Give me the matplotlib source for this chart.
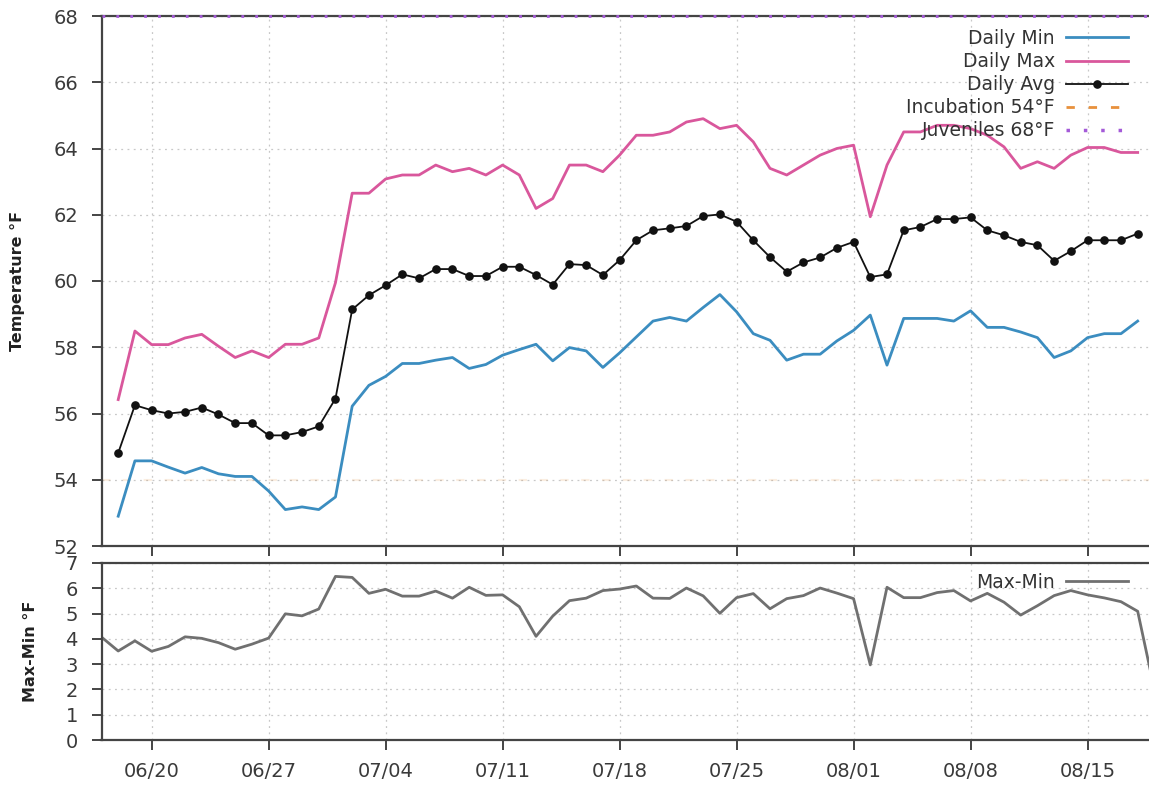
import numpy as np
import pandas as pd
import matplotlib
matplotlib.use("Agg")
import matplotlib.pyplot as plt
import matplotlib.dates as mdates
from matplotlib.lines import Line2D

plt.rcParams['font.family'] = ['DejaVu Sans']

# daily stats, 06/18 .. 08/18
days = pd.date_range("2021-06-18", "2021-08-18", freq="D")

daily_min = [52.90, 54.57, 54.57, 54.38, 54.20, 54.37, 54.18, 54.10, 54.10, 53.66, 53.10, 53.18, 53.10,
             53.48, 56.22, 56.85, 57.12, 57.51, 57.51, 57.61, 57.69, 57.36, 57.48, 57.76, 57.93, 58.09,
             57.59, 57.99, 57.89, 57.39, 57.83, 58.31, 58.79, 58.90, 58.79, 59.20, 59.59, 59.07, 58.41,
             58.21, 57.61, 57.79, 57.79, 58.19,
             58.51, 58.97, 57.46, 58.87, 58.87, 58.87, 58.79, 59.10, 58.60, 58.60, 58.46, 58.29, 57.69,
             57.89, 58.29, 58.41, 58.41, 58.79]

daily_max = [56.42, 58.49, 58.08, 58.08, 58.28, 58.39, 58.03, 57.69, 57.89, 57.69, 58.09, 58.09, 58.28,
             59.95, 62.65, 62.65, 63.08, 63.20, 63.20, 63.50, 63.30, 63.40, 63.20, 63.50, 63.20, 62.19,
             62.49, 63.50, 63.50, 63.30, 63.80, 64.40, 64.40, 64.50, 64.80, 64.90, 64.60, 64.70, 64.20,
             63.40, 63.20, 63.50, 63.80, 64.00,
             64.10, 61.94, 63.50, 64.50, 64.50, 64.70, 64.70, 64.60, 64.40, 64.05, 63.40, 63.60, 63.40,
             63.80, 64.03, 64.03, 63.88, 63.88]

daily_avg = [54.81, 56.25, 56.10, 56.00, 56.05, 56.18, 55.97, 55.71, 55.71, 55.34, 55.34, 55.44, 55.61,
             56.45, 59.14, 59.57, 59.87, 60.20, 60.08, 60.36, 60.36, 60.15, 60.15, 60.43, 60.43, 60.18,
             59.89, 60.51, 60.48, 60.18, 60.63, 61.23, 61.53, 61.59, 61.66, 61.96, 62.01, 61.79, 61.23,
             60.72, 60.28, 60.56, 60.71, 61.00,
             61.18, 60.12, 60.20, 61.53, 61.63, 61.87, 61.87, 61.92, 61.53, 61.38, 61.18, 61.08, 60.61,
             60.90, 61.23, 61.23, 61.23, 61.43]

# the range series runs one day longer at each end
spread_days = pd.date_range("2021-06-17", "2021-08-19", freq="D")
spread_first = 4.07
spread_last = 2.0
spread = [spread_first] + list(np.round(np.array(daily_max) - np.array(daily_min), 2)) + [spread_last]

incubation = 54
juveniles = 68

tick_days = pd.date_range("2021-06-20", "2021-08-15", freq="7D")
xlim = (pd.Timestamp("2021-06-17"), pd.Timestamp("2021-08-19"))

c_min = "#3b8dc0"
c_max = "#d9579c"
c_avg = "#111111"
c_inc = "#e8913c"
c_juv = "#a45ad8"
c_rng = "#707070"
spine_c = "#444444"
grid_kw = dict(color="#c8c8c8", linestyle=(0, (1.5, 3.5)), linewidth=0.9)

fig = plt.figure(figsize=(11.49, 7.85), dpi=100)
left, width = 101.5 / 1149, (1154.4 - 101.5) / 1149
ax = fig.add_axes([left, 1 - 546 / 785, width, (546 - 16) / 785])
ax2 = fig.add_axes([left, 1 - 740 / 785, width, (740 - 563) / 785])

# --- temperatures
ax.plot(days, daily_min, color=c_min, lw=2.0, label="Daily Min", zorder=3)
ax.plot(days, daily_max, color=c_max, lw=2.0, label="Daily Max", zorder=3)
ax.plot(days, daily_avg, color=c_avg, lw=1.3, marker="o", ms=5.2, label="Daily Avg", zorder=4)
ax.axhline(incubation, color=c_inc, lw=1.5, ls=(0, (4, 6)), alpha=0.15, zorder=2)
ax.axhline(juveniles, color=c_juv, lw=2.0, ls=(0, (1, 4)), clip_on=False, zorder=6)

handles = [
    Line2D([], [], color=c_min, lw=2.0),
    Line2D([], [], color=c_max, lw=2.0),
    Line2D([], [], color=c_avg, lw=1.3, marker="o", ms=5.2),
    Line2D([], [], color=c_inc, lw=2.0, ls=(0, (3, 5))),
    Line2D([], [], color=c_juv, lw=2.5, ls=(0, (1, 4))),
]
labels = ["Daily Min", "Daily Max", "Daily Avg", "Incubation 54°F", "Juveniles 68°F"]
ax.legend(handles, labels, loc="upper right", bbox_to_anchor=(1128 / 1149, 1 - 29 / 785),
          bbox_transform=fig.transFigure, frameon=False, markerfirst=False, fontsize=13.5,
          handlelength=3.3, handletextpad=0.6, labelspacing=0.22, borderpad=0, borderaxespad=0,
          labelcolor="#333333")

ax.set_ylim(52, 68)
ax.set_yticks(np.arange(52, 69, 2))
ax.set_ylabel("Temperature °F", fontsize=11.5, fontweight="bold", color="#222222", labelpad=20)

# --- daily range
ax2.plot(spread_days, spread, color=c_rng, lw=2.0, label="Max-Min")
ax2.legend(loc="upper right", bbox_to_anchor=(1128 / 1149, 1 - 573 / 785),
           bbox_transform=fig.transFigure, frameon=False, markerfirst=False, fontsize=13.5,
           handlelength=3.3, handletextpad=0.6, borderpad=0, borderaxespad=0,
           labelcolor="#333333")
ax2.set_ylim(0, 7)
ax2.set_yticks(range(0, 8))
ax2.set_ylabel("Max-Min °F", fontsize=11.5, fontweight="bold", color="#222222", labelpad=20)

for a in (ax, ax2):
    a.set_xlim(*xlim)
    a.set_xticks(tick_days)
    a.xaxis.set_major_formatter(mdates.DateFormatter("%m/%d"))
    a.grid(True, **grid_kw)
    a.set_axisbelow(True)
    a.tick_params(axis="both", direction="out", length=7, width=1.4, color=spine_c,
                  labelsize=14, labelcolor="#3a3a3a")
    a.tick_params(axis="y", pad=10)
    a.tick_params(axis="x", pad=9)
    for s in a.spines.values():
        s.set_color(spine_c)
        s.set_linewidth(1.6)

ax.tick_params(axis="x", labelbottom=False)

fig.savefig("out.png", dpi=100, facecolor="white")
